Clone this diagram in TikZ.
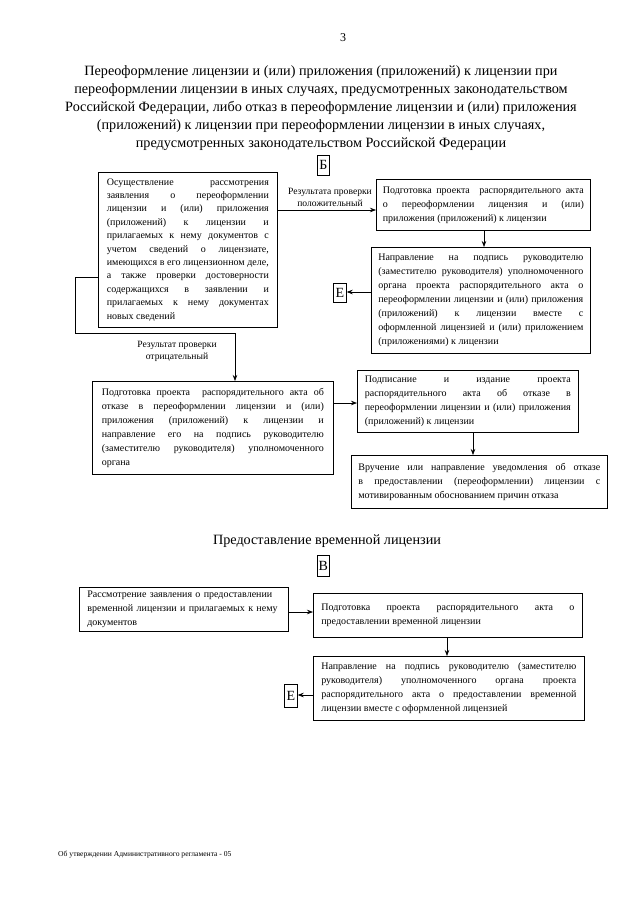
\documentclass[tikz,border=0pt]{standalone}
\usepackage{fontspec}
\setmainfont{Liberation Serif}
\usetikzlibrary{arrows.meta}
\newcommand\bxfont{\fontsize{10}{14}\selectfont\tolerance=10000\hbadness=10000}
\newcommand\bxfontA{\fontsize{10}{13.4}\selectfont\tolerance=10000\hbadness=10000}
\tikzset{
  box/.style={draw, line width=0.7pt, anchor=north west, inner xsep=0pt, inner ysep=0pt,
    align=justify, font=\bxfont},
  letterbox/.style={draw, line width=0.7pt, anchor=north west, inner sep=0pt,
    font=\fontsize{14}{14}\selectfont},
  lbl/.style={align=center, font=\fontsize{9.6}{12}\selectfont, inner sep=0pt},
  arr/.style={-{Stealth[length=6pt,width=4.5pt]}, line width=0.7pt},
  conn/.style={line width=0.7pt},
}
\begin{document}
\begin{tikzpicture}[x=1pt,y=-1pt]
\useasboundingbox[fill=white] (0,0) rectangle (640,905);

\node[inner sep=0pt, font=\fontsize{12}{12}\selectfont] (pgnum) at (343,38) {3};

\node[align=center, inner sep=0pt, font=\fontsize{14.2}{18}\selectfont] (title1) at (321,108)
 {Переоформление лицензии и (или) приложения (приложений) к лицензии при\\
  переоформлении лицензии в иных случаях, предусмотренных законодательством\\
  Российской Федерации, либо отказ в переоформление лицензии и (или) приложения\\
  (приложений) к лицензии при переоформлении лицензии в иных случаях,\\
  предусмотренных законодательством Российской Федерации};

\node[letterbox, minimum width=12pt, minimum height=20pt] (lb) at (317,155) {Б};

% Section 1
\node[box, font=\bxfontA, minimum width=179pt, minimum height=155pt, text width=162pt] (b1) at (98,172)
 {Осуществление рассмотрения\linebreak
  заявления о переоформлении\linebreak
  лицензии и (или) приложения\linebreak
  (приложений) к лицензии и\linebreak
  прилагаемых к нему документов с\linebreak
  учетом сведений о лицензиате,\linebreak
  имеющихся в его лицензионном деле,\linebreak
  а также проверки достоверности\linebreak
  содержащихся в заявлении и\linebreak
  прилагаемых к нему документах\linebreak
  новых сведений};

\node[box, minimum width=214pt, minimum height=51pt, text width=201pt] (b2) at (376,179)
 {Подготовка проекта\ \ распорядительного акта\linebreak
  о переоформлении лицензия и (или)\linebreak
  приложения (приложений) к лицензии};

\node[box, minimum width=219pt, minimum height=106pt, text width=205pt] (b3) at (371,247)
 {Направление на подпись руководителю\linebreak
  (заместителю руководителя) уполномоченного\linebreak
  органа проекта распорядительного акта о\linebreak
  переоформлении лицензии и (или) приложения\linebreak
  (приложений) к лицензии вместе с\linebreak
  оформленной лицензией и (или) приложением\linebreak
  (приложениями) к лицензии};

\node[letterbox, minimum width=13pt, minimum height=19pt] (le1) at (333,283) {Е};

\node[box, minimum width=241pt, minimum height=93pt, text width=222pt] (b4) at (92,381)
 {Подготовка проекта\ \ распорядительного акта об\linebreak
  отказе в переоформлении лицензии и (или)\linebreak
  приложения (приложений) к лицензии и\linebreak
  направление его на подпись руководителю\linebreak
  (заместителю руководителя) уполномоченного\linebreak
  органа};

\node[box, minimum width=221pt, minimum height=62pt, text width=206pt] (b5) at (357,370)
 {Подписание и издание проекта\linebreak
  распорядительного акта об отказе в\linebreak
  переоформлении лицензии и (или) приложения\linebreak
  (приложений) к лицензии};

\node[box, minimum width=256pt, minimum height=53pt, text width=242pt] (b6) at (351,455)
 {Вручение или направление уведомления об отказе\linebreak
  в предоставлении (переоформлении) лицензии с\linebreak
  мотивированным обоснованием причин отказа};

\node[lbl] (lpos) at (330,197) {Результата проверки\\положительный};
\node[lbl] (lneg) at (177,351) {Результат проверки\\отрицательный};

\coordinate (r1) at (0,210);
\coordinate (n1) at (75,277);
\coordinate (n2) at (235,333);
\coordinate (x2) at (484,0);
\coordinate (r3) at (0,292);
\coordinate (r4) at (0,403);
\coordinate (x5) at (473,0);

\draw[arr] (b1.east |- r1) -- (b2.west |- r1);
\draw[arr] (b2.south -| x2) -- (b3.north -| x2);
\draw[arr] (b3.west |- r3) -- (le1.east |- r3);
\draw[arr] (b1.west |- n1) -- (n1) |- (n2) -- (b4.north -| n2);
\draw[arr] (b4.east |- r4) -- (b5.west |- r4);
\draw[arr] (b5.south -| x5) -- (b6.north -| x5);

% Section 2
\node[inner sep=0pt, font=\fontsize{14.2}{18}\selectfont] (title2) at (327,541) {Предоставление временной лицензии};
\node[letterbox, minimum width=12pt, minimum height=21pt] (lv) at (317,555) {В};

\node[box, align=left, minimum width=209pt, minimum height=44pt, text width=193pt] (b7) at (79,587)
 {Рассмотрение заявления о предоставлении\\
  временной лицензии и прилагаемых к нему\\
  документов};

\node[box, minimum width=269pt, minimum height=44pt, text width=253pt] (b8) at (313,593)
 {Подготовка проекта распорядительного акта о\linebreak
  предоставлении временной лицензии};

\node[box, minimum width=271pt, minimum height=64pt, text width=255pt] (b9) at (313,656)
 {Направление на подпись руководителю (заместителю\linebreak
  руководителя) уполномоченного органа проекта\linebreak
  распорядительного акта о предоставлении временной\linebreak
  лицензии вместе с оформленной лицензией};

\node[letterbox, minimum width=13pt, minimum height=23pt] (le2) at (284,684) {Е};

\coordinate (r7) at (0,612);
\coordinate (x8) at (447,0);
\coordinate (r9) at (0,695);
\draw[arr] (b7.east |- r7) -- (b8.west |- r7);
\draw[arr] (b8.south -| x8) -- (b9.north -| x8);
\draw[arr] (b9.west |- r9) -- (le2.east |- r9);

\node[anchor=west, inner sep=0pt, font=\fontsize{7.6}{9}\selectfont] (foot) at (58,855)
 {Об утверждении Административного регламента - 05};
\end{tikzpicture}
\end{document}
